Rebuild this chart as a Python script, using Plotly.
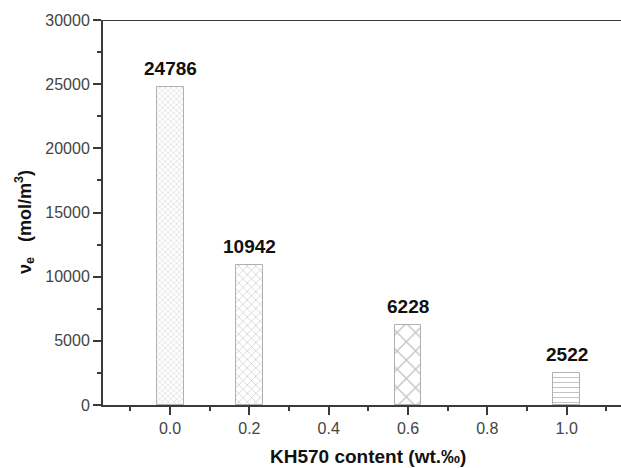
import plotly.graph_objects as go

kh570 = [0.0, 0.2, 0.6, 1.0]
ve = [24786, 10942, 6228, 2522]
labels = ["24786", "10942", "6228", "2522"]
x_ticks = [0.0, 0.2, 0.4, 0.6, 0.8, 1.0]
x_ticktext = ["0.0", "0.2", "0.4", "0.6", "0.8", "1.0"]
y_ticks = [0, 5000, 10000, 15000, 20000, 25000, 30000]
y_ticktext = ["0", "5000", "10000", "15000", "20000", "25000", "30000"]
pattern_shapes = ["x", "x", "x", "-"]
pattern_sizes = [4, 6, 13, 5]

FONT = "Liberation Sans, Arial, sans-serif"

fig = go.Figure()
fig.add_trace(go.Bar(
    x=kh570, y=ve, width=0.068,
    marker=dict(
        color="white",
        line=dict(color="#b0b0b0", width=1),
        pattern=dict(shape=pattern_shapes, size=pattern_sizes, solidity=0.2,
                     fgcolor="#8a8a8a", bgcolor="white", fillmode="overlay"),
    ),
    showlegend=False,
))

for xv, yv, t in zip(kh570, ve, labels):
    fig.add_annotation(x=xv, y=yv, text="<b>%s</b>" % t, showarrow=False,
                       yanchor="bottom", yshift=6,
                       font=dict(family=FONT, size=19, color="#111"))

fig.add_shape(type="line", xref="paper", yref="y", x0=0, x1=1, y0=30000, y1=30000,
              line=dict(color="#3a3a3a", width=2))

fig.add_annotation(xref="paper", yref="paper", x=(368-103)/518, y=-(456-405)/385,
                   text="<b>KH570 content (wt.‰)</b>", showarrow=False,
                   xanchor="center", yanchor="middle",
                   font=dict(family=FONT, size=19, color="#111"))
fig.add_annotation(xref="paper", yref="paper", x=-(103-25)/518, y=(405-222)/385,
                   text="<b>ν<sub>e</sub>   (mol/m<sup>3</sup>)</b>", showarrow=False,
                   textangle=-90, xanchor="center", yanchor="middle",
                   font=dict(family=FONT, size=18, color="#111"))

fig.update_layout(
    width=621, height=468,
    margin=dict(l=103, r=0, t=20, b=63),
    paper_bgcolor="white", plot_bgcolor="white",
    font=dict(family=FONT, size=16, color="#444"),
    bargap=0,
)
fig.update_xaxes(
    range=[-0.169, 1.137], tickvals=x_ticks, ticktext=x_ticktext,
    showline=True, linecolor="#3a3a3a", linewidth=2,
    ticks="outside", ticklen=8, tickwidth=2, tickcolor="#3a3a3a",
    minor=dict(ticks="outside", ticklen=4, tickwidth=2, tickcolor="#3a3a3a", dtick=0.1, tick0=0),
    showgrid=False, zeroline=False,
    tickfont=dict(size=16, color="#444"),
)
fig.update_yaxes(
    range=[0, 30000], tickvals=y_ticks, ticktext=y_ticktext,
    showline=True, linecolor="#3a3a3a", linewidth=2,
    ticks="outside", ticklen=8, tickwidth=2, tickcolor="#3a3a3a",
    minor=dict(ticks="outside", ticklen=4, tickwidth=2, tickcolor="#3a3a3a", dtick=2500, tick0=0),
    showgrid=False, zeroline=False,
    tickfont=dict(size=16, color="#444"),
)

fig.write_html("out.html")
